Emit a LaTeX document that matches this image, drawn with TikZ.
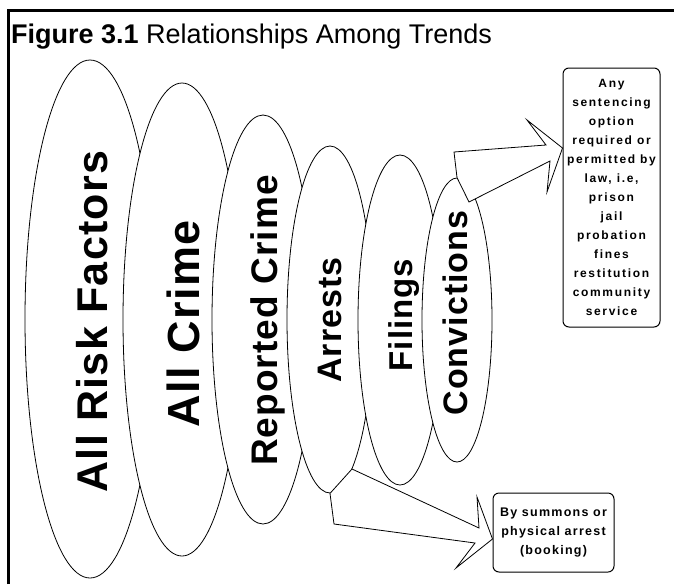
\documentclass[tikz,border=0pt]{standalone}
\usepackage{fontspec}
\setmainfont{Liberation Sans}
\newfontfamily\ovalfont{Liberation Sans}[LetterSpace=3]
\newfontfamily\notefont{Liberation Sans}[LetterSpace=14]
\newfontfamily\bookfont{Liberation Sans}[LetterSpace=10]
\usetikzlibrary{shapes.geometric}
\newcommand{\fsz}[1]{\fontsize{#1}{#1}\selectfont}

\begin{document}
\begin{tikzpicture}[x=1pt,y=-1pt,
  oval/.style={ellipse,draw,fill=white,line width=.8pt,inner sep=0pt},
  ovaltext/.style={rotate=90,anchor=base,inner sep=0pt,font=\ovalfont\bfseries\fsz{#1}},
  notebox/.style={draw,fill=white,rounded corners=6pt,line width=1pt,inner sep=0pt,align=center},
  blockarrow/.style={draw,fill=white,line width=.8pt,line join=miter}]
\useasboundingbox (0,0) rectangle (674,584);
%frame and title
\draw[line width=3pt] (8.5,584) -- (8.5,10.5) -- (674,10.5);
\node[anchor=base west,inner sep=0pt,font=\fsz{27}] (title) at (11,43)
  {\bfseries Figure 3.1 \mdseries Relationships Among Trends};
%the funnel of ovals
\node[oval,minimum width=130pt,minimum height=518pt] (risk) at (90,319) {};
\node[oval,minimum width=118pt,minimum height=473pt] (crime) at (182,319.5) {};
\node[oval,minimum width=102pt,minimum height=409pt] (reported) at (263,319.5) {};
\node[oval,minimum width=86pt,minimum height=347pt] (arrests) at (330,319.5) {};
\node[oval,minimum width=84pt,minimum height=330pt] (filings) at (400,320) {};
\node[oval,minimum width=70pt,minimum height=284pt] (convictions) at (457,320) {};
\node[ovaltext=43] (risklbl) at (107,321.5) {All Risk Factors};
\node[ovaltext=45] (crimelbl) at (199,324) {All Crime};
\node[ovaltext=37] (reportedlbl) at (277,320.5) {Reported Crime};
\node[ovaltext=34] (arrestslbl) at (341,320) {Arrests};
\node[ovaltext=33] (filingslbl) at (412,315) {Filings};
\node[ovaltext=34] (convictionslbl) at (467,313) {Convictions};
%boxes
\node[notebox,minimum width=97pt,minimum height=259pt,
  font=\notefont\bfseries\fontsize{12}{19}\selectfont] (sentencing) at (611.5,197.5)
  {Any\\sentencing\\option\\required or\\permitted by\\law, i.e,\\prison\\jail\\probation\\fines\\restitution\\community\\service};
\node[notebox,minimum width=121pt,minimum height=79pt,
  font=\bookfont\bfseries\fontsize{12.5}{19}\selectfont] (booking) at (553.5,532.5)
  {By summons or\\physical arrest\\(booking)};
%block arrows
\draw[blockarrow] (convictions.north) -- (454,152) -- (546,145) -- (527,120)
  -- (sentencing.west |- 0,148) -- (547,192) -- (550,161) -- (469,202) -- cycle;
\draw[blockarrow] (arrests.south) -- (334,524) -- (475,543) -- (456,568)
  -- (booking.west |- 0,539) -- (477,497) -- (479,528) -- (352,469) -- cycle;
\end{tikzpicture}
\end{document}
